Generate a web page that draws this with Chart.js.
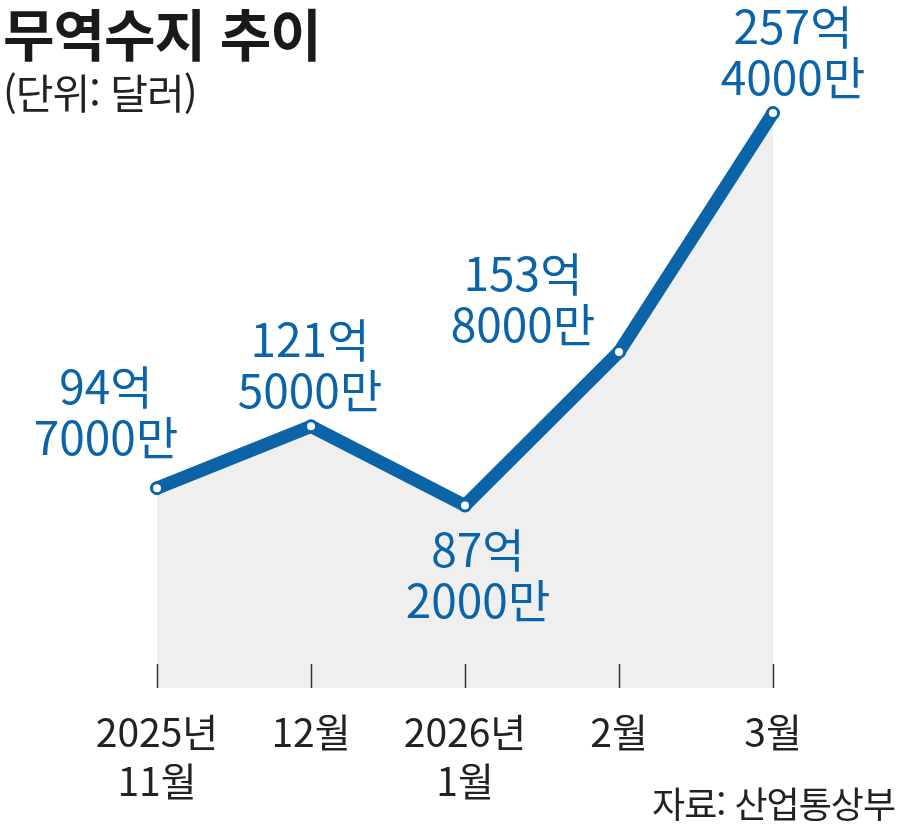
<!DOCTYPE html>
<html lang="ko">
<head>
<meta charset="utf-8">
<title>무역수지 추이</title>
<script src="https://cdn.jsdelivr.net/npm/chart.js@4/dist/chart.umd.min.js"></script>
<style>
  html, body { margin: 0; padding: 0; background: #fff; }
  body { width: 900px; height: 827px; position: relative; overflow: hidden; font-family: "Noto Sans CJK KR", "Noto Sans", sans-serif; }
  #wrap { position: absolute; left: 0; top: 0; width: 900px; height: 827px; }
  .title { position: absolute; left: 3px; top: -9px; font-size: 56px; font-weight: 700; color: #1a1a1a; letter-spacing: -1px; }
  .unit { position: absolute; left: 3px; top: 61px; font-size: 41px; color: #222; letter-spacing: -1px; }
  .source { position: absolute; right: 5px; top: 776px; font-size: 36px; color: #222; letter-spacing: -1px; }
</style>
</head>
<body>
<div id="wrap"><canvas id="chart" width="900" height="827"></canvas></div>
<div class="title">무역수지 추이</div>
<div class="unit">(단위: 달러)</div>
<div class="source">자료: 산업통상부</div>
<script>
// 무역수지 (억 달러)
const months = ["2025-11", "2025-12", "2026-01", "2026-02", "2026-03"];
const tickLabels = [["2025년", "11월"], ["12월"], ["2026년", "1월"], ["2월"], ["3월"]];
const balance = [94.7, 121.5, 87.2, 153.8, 257.4];
const valueLabels = [["94억", "7000만"], ["121억", "5000만"], ["87억", "2000만"], ["153억", "8000만"], ["257억", "4000만"]];

// label placement relative to each point (px)
const labelOffsets = [[-51, -102], [-1, -87], [13, 44], [-96, -78], [20, -87]];

const blue = "#0c64a8";
const font = '"Noto Sans CJK KR", "Noto Sans", sans-serif';

const labelPlugin = {
  id: "labels",
  afterDatasetsDraw(chart) {
    const ctx = chart.ctx;
    const meta = chart.getDatasetMeta(0);
    const area = chart.chartArea;
    const x = chart.scales.x;
    ctx.save();
    // tick marks
    ctx.strokeStyle = "#333";
    ctx.lineWidth = 1.5;
    months.forEach((m, i) => {
      const px = Math.round(x.getPixelForValue(i)) + 0.5;
      ctx.beginPath();
      ctx.moveTo(px, area.bottom - 24);
      ctx.lineTo(px, area.bottom);
      ctx.stroke();
    });
    // x labels
    ctx.fillStyle = "#222";
    ctx.font = "39px " + font;
    ctx.textAlign = "center";
    ctx.textBaseline = "middle";
    tickLabels.forEach((lines, i) => {
      const px = x.getPixelForValue(i);
      lines.forEach((t, j) => ctx.fillText(t, px, area.bottom + 44 + j * 49));
    });
    // value labels
    ctx.fillStyle = blue;
    ctx.font = "46px " + font;
    meta.data.forEach((pt, i) => {
      const [dx, dy] = labelOffsets[i];
      valueLabels[i].forEach((t, j) => ctx.fillText(t, pt.x + dx, pt.y + dy + j * 51));
    });
    ctx.restore();
  }
};

new Chart(document.getElementById("chart").getContext("2d"), {
  type: "line",
  data: {
    labels: months,
    datasets: [
      {
        data: balance,
        borderColor: blue,
        borderWidth: 13,
        borderJoinStyle: "round",
        borderCapStyle: "round",
        fill: "start",
        backgroundColor: "#efefef",
        pointRadius: 5.5,
        pointBorderWidth: 3,
        pointBackgroundColor: "#fff",
        pointBorderColor: blue,
        tension: 0,
        clip: false,
      },
    ],
  },
  options: {
    responsive: false,
    animation: false,
    layout: { padding: { left: 157, right: 127, top: 61, bottom: 139 } },
    plugins: { legend: { display: false }, tooltip: { enabled: false } },
    scales: {
      x: { display: false, offset: false },
      y: { display: false, min: 8, max: 280 },
    },
  },
  plugins: [labelPlugin],
});
</script>
</body>
</html>
